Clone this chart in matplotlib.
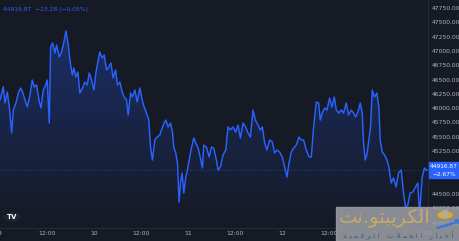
import numpy as np
import matplotlib.pyplot as plt
from matplotlib.colors import LinearSegmentedColormap
from matplotlib.patches import Rectangle, Circle, FancyArrow

# BTC price, hours since day 9 00:00
hours = [0.0, 0.85, 1.28, 1.87, 2.38, 2.98, 3.40, 4.08, 4.68, 5.28, 5.79, 6.38, 6.98,
         7.66, 8.25, 8.77, 9.36, 9.96, 10.47, 11.06, 11.66, 12.08, 12.59, 12.94, 13.45,
         14.04, 14.47, 15.15, 15.74, 16.34, 16.85, 17.45, 17.87, 18.47, 18.89, 19.40,
         19.91, 20.42, 21.10, 21.70, 22.30, 22.81, 23.40, 24.00, 24.51, 25.10, 25.53,
         26.13, 26.64, 27.23, 27.83, 28.34, 28.93, 29.53, 30.04, 30.64, 31.23, 31.74,
         32.34, 32.76, 33.36, 33.87, 34.47, 35.06, 35.74, 36.34, 36.85, 37.44, 38.04,
         38.47, 38.98, 39.57, 40.17, 40.85, 41.44, 41.95, 42.38, 42.98, 43.57, 44.08,
         44.42, 44.93, 45.36, 45.78, 46.12, 46.55, 46.98, 47.49, 47.91, 48.34, 48.93,
         49.53, 50.04, 50.63,
         51.06, 51.74, 52.08, 52.76, 53.44, 54.04, 54.63, 55.31, 55.74, 56.34, 57.02,
         57.70, 58.29, 58.89, 59.57, 60.25, 60.85, 61.44, 62.12, 62.80, 63.40, 64.00,
         64.68, 65.27, 65.95, 66.55, 67.06, 67.65, 68.25, 68.93, 69.61, 70.21, 70.80,
         71.48, 72.16, 72.76, 73.36, 73.87, 74.46, 75.06, 75.74, 76.42, 77.02, 77.61,
         78.29, 78.97, 79.57, 80.16, 80.85, 81.44, 81.87, 82.38, 82.97, 83.57, 84.25,
         84.84, 85.44, 85.95, 86.63, 87.23, 87.82, 88.50, 89.10, 89.78, 90.38, 90.89,
         91.48, 92.08, 92.59, 92.93, 93.36, 93.78, 94.29, 94.72, 95.14, 95.74, 96.33,
         96.84, 97.18, 97.69, 98.29, 98.89, 99.40, 99.99, 100.59, 101.27, 101.86,
         102.54, 103.14, 103.65, 104.25, 104.84, 105.52, 106.20, 106.80, 107.23,
         107.91, 108.50, 109.00, 109.25]
prices = [46142, 46374, 46090, 46282, 46020, 45565, 45967, 46090, 46264, 46352, 46282,
          46142, 46020, 46229, 46492, 46369, 46404, 46142, 46002, 46317, 46404, 46492,
          45740, 47068, 47138, 46964, 47103, 46894, 46981, 47156, 47348, 47103, 46841,
          46579, 46701, 46544, 46631, 46264, 46352, 46457, 46404, 46614, 46492, 46317,
          46614, 46841, 46981, 46876, 46929, 46666, 46719, 46789, 46527, 46666, 46404,
          46457, 46282, 46194, 46142, 45880, 46264, 46194, 46317, 46107, 46352, 46142,
          46020, 45915, 45792, 45320, 45093, 45443, 45495, 45530, 45653, 45740, 45792,
          45670, 45740, 45583, 45320, 45216, 45041, 44359, 44691, 44866, 44516, 44796,
          44918, 45093, 45303, 45478, 45390, 45303,
          45181, 44953, 45355, 45320, 45146, 45320, 45303, 45093, 44918, 44971, 45181,
          45268, 45670, 45618, 45670, 45583, 45705, 45478, 45740, 45670, 45565, 45495,
          45967, 45792, 45705, 45618, 45670, 45390, 45268, 45443, 45408, 45216, 45268,
          45233, 45146, 44971, 44796, 45041, 45233, 45303, 45355, 45495, 45443, 45443,
          45268, 45146, 45146, 45670, 46107, 46090, 45792, 45915, 46002, 45967, 46177,
          46020, 46194, 45967, 45915, 45967, 45915, 46090, 45880, 45967, 45915, 45845,
          45932, 46090, 45915, 45390, 45093, 45181, 45443, 45670, 46317, 46194, 46264,
          46020, 45443, 45233, 45181, 45093, 44971, 44691, 44779, 44621, 44866, 44918,
          44516, 44272, 44307, 44516, 44534, 44621, 44691, 44132, 44796, 44953, 44918,
          44916.87]

last_price = 44916.87
legend_txt = '44916.87  −23.28 (−0.05%)'
box_lines = ['44916.87', '−2.67%']
y_ticks = [44000, 44250, 44500, 45000, 45250, 45500, 45750, 46000,
           46250, 46500, 46750, 47000, 47250, 47500, 47750]
x_ticks = [0, 12, 24, 36, 48, 60, 72, 84, 96, 108]
x_labels = ['9', '12:00', '10', '12:00', '11', '12:00', '12', '12:00', '13', '12:00']

bg = '#161a25'
blue = '#2962ff'
txt_gray = '#b2b5be'
W, H = 460, 241

fig = plt.figure(figsize=(4.6, 2.41), dpi=100, facecolor=bg)
ax = fig.add_axes([0, 13 / H, 428 / W, 228 / H], facecolor=bg)

ymin, ymax = 43905, 47890
xmax = 109.4

ax.plot(hours, prices, color=blue, lw=1.05, zorder=3, solid_joinstyle='round')

# gradient area under the line
poly = ax.fill_between(hours, prices, ymin, color='none', lw=0)
grad = np.linspace(0, 1, 256).reshape(-1, 1)
cmap = LinearSegmentedColormap.from_list('g', [(0.16, 0.38, 1, 0.0), (0.16, 0.38, 1, 0.3)])
im = ax.imshow(grad, extent=[0, xmax, ymin, max(prices)], origin='lower',
               aspect='auto', cmap=cmap, zorder=2)
im.set_clip_path(poly.get_paths()[0], transform=ax.transData)

ax.axhline(last_price, color=blue, lw=0.6, ls=(0, (2, 2)), alpha=0.45, zorder=2)

ax.set_xlim(0, xmax)
ax.set_ylim(ymin, ymax)

ax.yaxis.tick_right()
ax.set_yticks(y_ticks)
ax.set_yticklabels([f'{v:.2f}' for v in y_ticks])
ax.set_xticks(x_ticks)
ax.set_xticklabels(x_labels)
ax.tick_params(axis='both', length=0, labelsize=4.3, colors=txt_gray)
ax.tick_params(axis='y', pad=3)
ax.tick_params(axis='x', pad=2.5)
for s in ['top', 'left']:
    ax.spines[s].set_visible(False)
for s in ['right', 'bottom']:
    ax.spines[s].set_color('#2a2e39')
    ax.spines[s].set_linewidth(0.6)


def fx(x):
    return x / W


def fy(y):
    return 1 - y / H


# legend text top-left
fig.text(fx(3), fy(10), legend_txt, color=blue, fontsize=4.3, va='center', ha='left')

# last price box
yb = ax.transData.transform((0, last_price))[1]
fig.patches.append(Rectangle((fx(429), yb / H - 8 / H), 31 / W, 16 / H,
                             transform=fig.transFigure, color=blue, zorder=5))
fig.text(fx(444), yb / H + 3.6 / H, box_lines[0], color='white', fontsize=4.2,
         ha='center', va='center', zorder=6)
fig.text(fx(444), yb / H - 3.9 / H, box_lines[1], color='white', fontsize=4.2,
         ha='center', va='center', zorder=6)

# TradingView logo
fig.patches.append(Circle((fx(12), fy(217)), 7.5 / W, transform=fig.transFigure,
                          facecolor='#1e222d', edgecolor='#2a2e39', lw=0.5, zorder=5))
fig.text(fx(12), fy(217), 'TV', color='white', fontsize=5, fontweight='bold',
         ha='center', va='center', zorder=6)

# watermark
fig.patches.append(Rectangle((fx(336), 0), 124 / W, 34 / H, transform=fig.transFigure,
                             color='#9a9da3', alpha=0.88, zorder=7))
wm1 = '\uFE96\uFEE7.\uFEEE\uFE98\uFE92\uFEF3\uFEAE\uFEDC\uFEDF\uFE8D'
wm2_words = ['\uFE94\uFEF4\uFEE4\uFED7\uFEAE\uFEDF\uFE8D',
             '\uFE95\uFEFC\uFEE4\uFECC\uFEDF\uFE8D',
             '\uFEAD\uFE8E\uFE92\uFEA7\uFE83']
wm2 = '   '.join(' '.join(w) for w in wm2_words)
fig.text(fx(339), fy(218), wm1, color='#c9a86a', fontsize=14, ha='left', va='center',
         family='DejaVu Sans', zorder=8)
fig.text(fx(398), fy(235), wm2, color='#3f6388', fontsize=5.3, ha='center',
         va='center', family='DejaVu Sans', zorder=8)
fig.patches.append(Circle((fx(445), fy(215)), 8 / W, transform=fig.transFigure,
                          facecolor='#d2a84c', edgecolor='#b88d33', lw=0.5, zorder=8))
fig.text(fx(445), fy(215), 'B', color='#a9acb1', fontsize=7, fontweight='bold',
         ha='center', va='center', zorder=9)
fig.patches.append(FancyArrow(fx(437), fy(228), 20 / W, 6 / H, width=0.004,
                              head_width=0.02, head_length=0.012,
                              transform=fig.transFigure, color='#3a78d8', zorder=9))

fig.savefig('out.png', dpi=100, facecolor=bg)
